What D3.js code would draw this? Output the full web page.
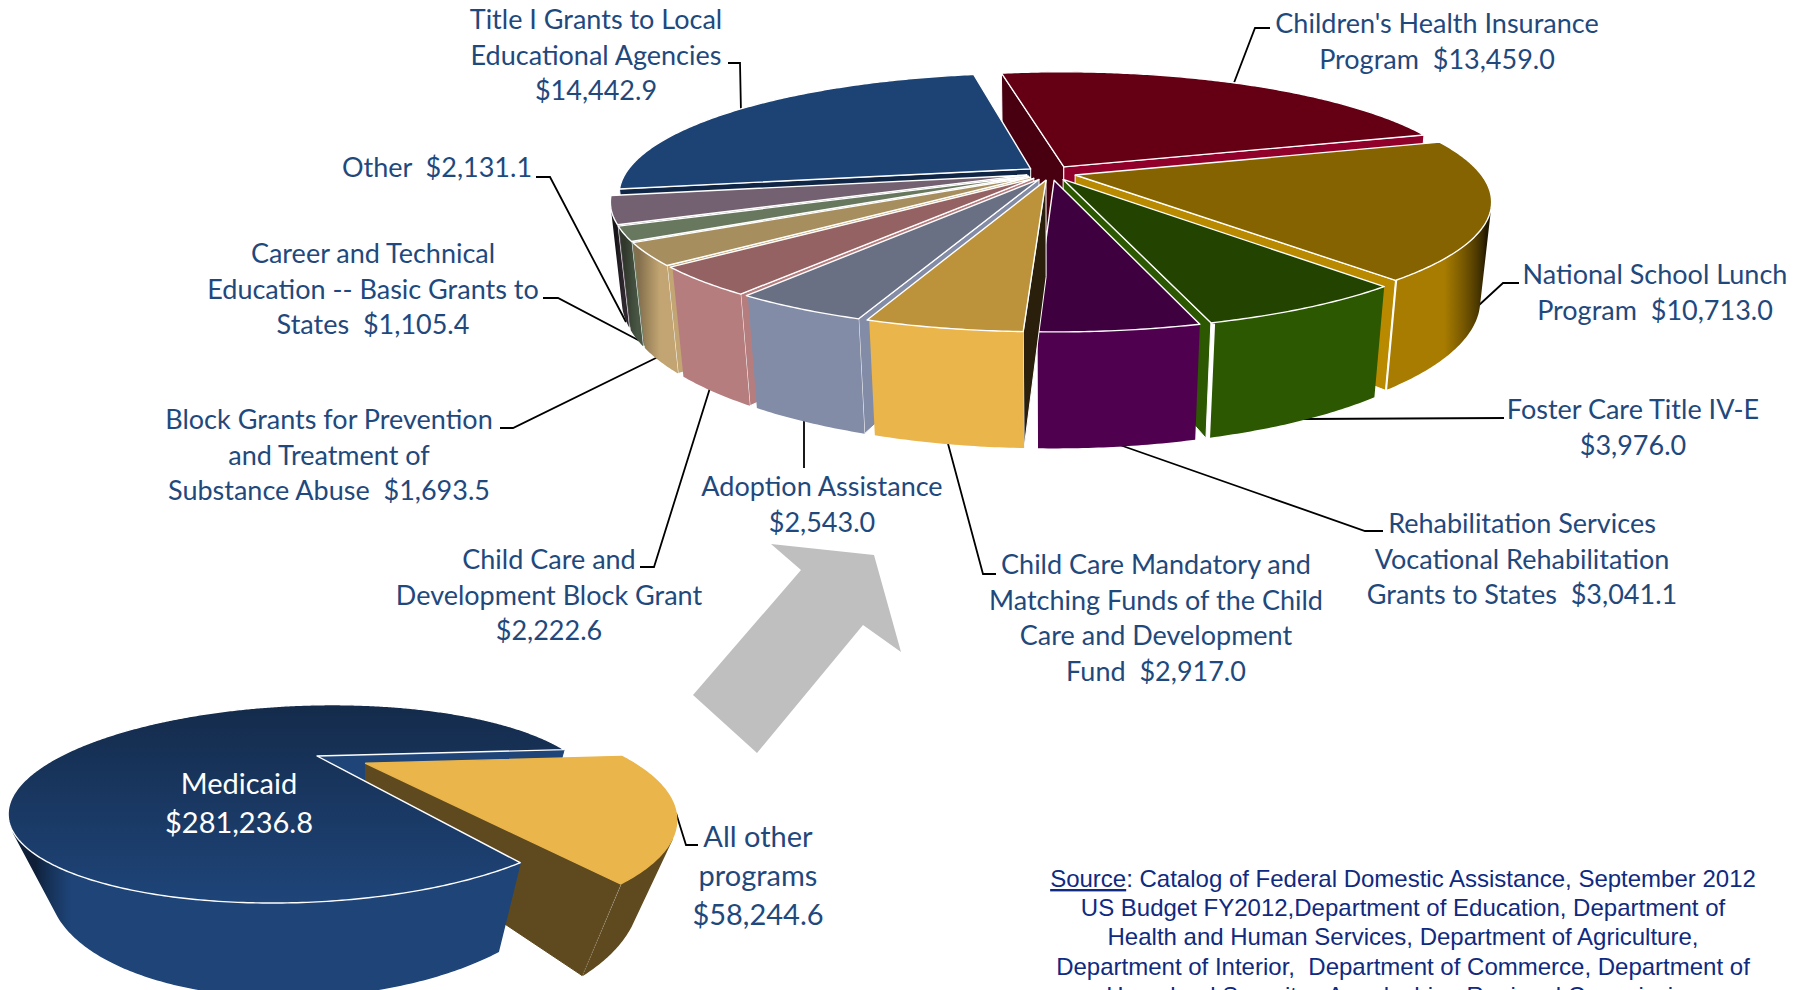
<!DOCTYPE html>
<html>
<head>
<meta charset="utf-8">
<title>Federal grants to state and local governments</title>
<script src="https://d3js.org/d3.v7.min.js"></script>
<style>
  html, body { margin: 0; padding: 0; background: #fff; overflow: hidden; }
  text { font-family: Lato, "Open Sans", sans-serif; }
</style>
</head>
<body>
<div id="chart"></div>
<script>
// Programs in the exploded pie, clockwise from the back
var programNames = ["Children's Health Insurance Program", "National School Lunch Program", "Foster Care Title IV-E",
  "Rehabilitation Services Vocational Rehabilitation Grants to States", "Child Care Mandatory and Matching Funds",
  "Adoption Assistance", "Child Care and Development Block Grant", "Block Grants for Prevention and Treatment of Substance Abuse",
  "Career and Technical Education -- Basic Grants to States", "Other", "Title I Grants to Local Educational Agencies"];
var programValues = [13459.0, 10713.0, 3976.0, 3041.1, 2917.0, 2543.0, 2222.6, 1693.5, 1105.4, 2131.1, 14442.9];

// Medicaid against everything else
var totalNames = ["All other programs", "Medicaid"];
var totalValues = [58244.6, 281236.8];

// Colours, same order as programNames
var topColors = ["#650014", "#846300", "#234400", "#3f0040", "#bc923a", "#6a7083", "#956264", "#a68e5f", "#67785f", "#736070", "#1c4374"];
var wallColors = ["#90002a", "#a87c00", "#2b5800", "#4f004f", "#eab54b", "#838ca6", "#b67d7f", "#c2a572", "#6d8065", "#6e5f6e", "#1e4478"];
var startCutColors = ["#480010", "#a87c00", "#2b5800", "#4f004f", "#2a1f0a", "#838ca6", "#b67d7f", "#c2a572", "#6d8065", "#6e5f6e", "#0f2647"];
var endCutColors = ["#90002a", "#b98a00", "#2b5800", "#4f004f", "#2a1f0a", "#838ca6", "#c99a9c", "#c2a572", "#6d8065", "#6e5f6e", "#0f2647"];

var width = 1799;
var height = 990;
var labelColor = "#1f497d";

var svg = d3.select("#chart").append("svg")
  .attr("width", width)
  .attr("height", height)
  .style("display", "block");

var defs = svg.append("defs");
var medicaidGradient = defs.append("linearGradient")
  .attr("id", "medicaidTop")
  .attr("gradientUnits", "userSpaceOnUse")
  .attr("x1", 0).attr("x2", 0).attr("y1", 705).attr("y2", 900);
medicaidGradient.append("stop").attr("offset", 0).attr("stop-color", "#142b4b");
medicaidGradient.append("stop").attr("offset", 1).attr("stop-color", "#1e4478");

// Leader lines, under the pies
var leaders = [
  [[728, 63], [740, 63], [741, 113]],
  [[1270, 28], [1255, 28], [1232, 88]],
  [[1519, 283], [1503, 283], [1478, 306]],
  [[1504, 418], [1304, 419]],
  [[1383, 531], [1365, 531], [1117, 444]],
  [[996, 574], [983, 574], [947, 440]],
  [[804, 468], [804, 418]],
  [[640, 567], [654, 567], [710, 388]],
  [[500, 428], [513, 428], [660, 356]],
  [[543, 298], [558, 298], [640, 341]],
  [[536, 177], [550, 177], [626, 322]],
  [[698, 845], [686, 845], [676, 813]]
];
svg.append("g").selectAll("path")
  .data(leaders)
  .enter()
  .append("path")
  .attr("d", d3.line())
  .attr("fill", "none")
  .attr("stroke", "#000")
  .attr("stroke-width", 1.8);

// Perspective camera for a tilted pie
function makeProjection(p) {
  return function(u, v, h) {
    var yy = v * p.sin - h * p.cos;
    var zz = v * p.cos + h * p.sin;
    var scale = p.dist / (p.dist - zz);
    return [p.camX + (u * p.stretch - p.off) * scale, p.cy + yy * p.squash * scale];
  };
}

// d3.polygonArea is positive for clockwise points on a y-down screen
function signedArea(pts) {
  return -d3.polygonArea(pts);
}

var edge = d3.line().curve(d3.curveLinearClosed);

function drawPie(g, values, p, colors) {
  var project = makeProjection(p);
  var arcs = d3.pie().sort(null).startAngle(p.start).endAngle(p.start + 2 * Math.PI)(values);
  var depth = d3.scaleLinear().domain(p.shadeFrom).range([0, 1]).clamp(true);

  var wedges = arcs.map(function(d, i) {
    var mid = (d.startAngle + d.endAngle) / 2;
    var ex = p.explode[i] * Math.sin(mid);
    var ey = -p.explode[i] * Math.cos(mid);
    return {
      start: d.startAngle, end: d.endAngle, mid: mid, i: i,
      rim: function(a, h) { return project(ex + p.radius * Math.sin(a), ey - p.radius * Math.cos(a), h); },
      tip: function(h) { return project(ex, ey, h); },
      steps: d3.range(d.startAngle, d.endAngle, 0.01).concat([d.endAngle])
    };
  });

  // the two cut faces of the wedge, only when they look at the camera
  function drawCuts(d) {
    var startFace = [d.tip(0), d.rim(d.start, 0), d.rim(d.start, -p.wall), d.tip(-p.wall)];
    var endFace = [d.tip(0), d.rim(d.end, 0), d.rim(d.end, -p.wall), d.tip(-p.wall)];
    if (signedArea(startFace) < 0) {
      g.append("path").attr("d", edge(startFace)).attr("fill", colors.startCut[d.i])
        .attr("stroke", p.cutLine[d.i]).attr("stroke-width", 1);
    }
    if (signedArea(endFace) > 0) {
      g.append("path").attr("d", edge(endFace)).attr("fill", colors.endCut[d.i])
        .attr("stroke", p.cutLine[d.i]).attr("stroke-width", 1);
    }
  }

  // outer wall with a horizontal gradient that darkens at the sides, then the top surface
  function drawBody(d) {
    var seen = d.steps.filter(function(a, k) {
      if (k === d.steps.length - 1) return false;
      var b = d.steps[k + 1];
      return signedArea([d.rim(a, 0), d.rim(b, 0), d.rim(b, -p.wall), d.rim(a, -p.wall)]) < 0;
    });
    if (seen.length > 1) {
      var id = p.id + "-wall-" + d.i;
      var midX = seen.map(function(a) { return (d.rim(a, 0)[0] + d.rim(a, -p.wall)[0]) / 2; });
      var toOffset = d3.scaleLinear().domain([midX[0], midX[midX.length - 1]]).range([0, 1]);
      var grad = defs.append("linearGradient").attr("id", id).attr("gradientUnits", "userSpaceOnUse")
        .attr("x1", midX[0]).attr("x2", midX[midX.length - 1]).attr("y1", 0).attr("y2", 0);
      seen.forEach(function(a, k) {
        grad.append("stop").attr("offset", toOffset(midX[k]))
          .attr("stop-color", d3.interpolateRgb(colors.wall[d.i], "#000")(p.edgeDark[d.i] * depth(Math.abs(Math.sin(a)))));
      });
      var outline = seen.map(function(a) { return d.rim(a, 0); })
        .concat(seen.slice().reverse().map(function(a) { return d.rim(a, -p.wall); }));
      g.append("path").attr("d", edge(outline)).attr("fill", "url(#" + id + ")")
        .attr("stroke", "url(#" + id + ")").attr("stroke-width", p.wallSeam);
    }
    var top = [d.tip(0)].concat(d.steps.map(function(a) { return d.rim(a, 0); }));
    g.append("path").attr("d", edge(top)).attr("fill", colors.top[d.i])
      .attr("stroke", p.line[d.i]).attr("stroke-width", 1.4).attr("stroke-linejoin", "round");
  }

  // p.order paints the wedges back to front; p.cutsFirst puts every cut face under all bodies
  if (p.cutsFirst) {
    p.order.slice().reverse().forEach(function(i) { drawCuts(wedges[i]); });
    p.order.forEach(function(i) { drawBody(wedges[i]); });
  } else {
    p.order.forEach(function(i) { drawCuts(wedges[i]); drawBody(wedges[i]); });
  }
}

// Arrow between the two pies
var arrowPoints = [[771, 544], [874, 555], [901, 652], [863, 625], [757, 753], [693, 695], [801, 570]];
svg.append("path")
  .attr("d", edge(arrowPoints))
  .attr("fill", "#bfbfbf");

// Upper pie
var whiteLines = programValues.map(function() { return "#fff"; });
drawPie(svg.append("g"), programValues, {
  id: "programs", camX: 1051, off: 0, cy: 173, sin: 0.358, cos: 0.934, squash: 0.807, dist: 1836, stretch: 1,
  radius: 405, wall: 130, wallSeam: 0, start: -10.4 * Math.PI / 180, shadeFrom: [0.8, 1],
  explode: programValues.map(function() { return 25; }),
  edgeDark: programValues.map(function() { return 0.95; }),
  line: whiteLines, cutLine: whiteLines,
  order: [0, 10, 1, 9, 8, 7, 2, 6, 5, 3, 4]
}, { top: topColors, wall: wallColors, startCut: startCutColors, endCut: endCutColors });

// Lower pie
drawPie(svg.append("g"), totalValues, {
  id: "totals", camX: 365, off: 48, cy: 756, sin: 0.42, cos: 0.907, squash: 0.636, dist: 536, stretch: 0.9,
  radius: 285, wall: 125, wallSeam: 1.5, start: 85 * Math.PI / 180, shadeFrom: [0.55, 0.88],
  explode: [60, 0], edgeDark: [0, 0.95], line: ["#eab54b", "#fff"], cutLine: ["#5f4a20", "#1e4478"],
  order: [0, 1], cutsFirst: true
}, { top: ["#eab54b", "url(#medicaidTop)"], wall: ["#5f4a20", "#1e4478"],
     startCut: ["#5f4a20", "#1e4478"], endCut: ["#5f4a20", "#1e4478"] });

// Slice labels
var labels = [
  { x: 596, y: 29, size: 27, lines: ["Title I Grants to Local", "Educational Agencies", "$14,442.9"] },
  { x: 1437, y: 33, size: 27, lines: ["Children's Health Insurance", "Program  $13,459.0"] },
  { x: 1655, y: 284, size: 27, lines: ["National School Lunch", "Program  $10,713.0"] },
  { x: 1633, y: 419, size: 27, lines: ["Foster Care Title IV-E", "$3,976.0"] },
  { x: 1522, y: 533, size: 27, lines: ["Rehabilitation Services", "Vocational Rehabilitation", "Grants to States  $3,041.1"] },
  { x: 1156, y: 574, size: 27, lines: ["Child Care Mandatory and", "Matching Funds of the Child", "Care and Development", "Fund  $2,917.0"] },
  { x: 822, y: 496, size: 27, lines: ["Adoption Assistance", "$2,543.0"] },
  { x: 549, y: 569, size: 27, lines: ["Child Care and", "Development Block Grant", "$2,222.6"] },
  { x: 329, y: 429, size: 27, lines: ["Block Grants for Prevention", "and Treatment of", "Substance Abuse  $1,693.5"] },
  { x: 373, y: 263, size: 27, lines: ["Career and Technical", "Education -- Basic Grants to", "States  $1,105.4"] },
  { x: 437, y: 177, size: 27, lines: ["Other  $2,131.1"] },
  { x: 758, y: 847, size: 29, step: 39, lines: ["All other", "programs", "$58,244.6"] },
  { x: 239, y: 794, size: 29, step: 39, color: "#fff", lines: ["Medicaid", "$281,236.8"] }
];

labels.forEach(function(d) {
  var t = svg.append("text")
    .attr("text-anchor", "middle")
    .attr("font-size", d.size)
    .attr("fill", d.color || labelColor)
    .style("white-space", "pre");
  d.lines.forEach(function(line, i) {
    t.append("tspan")
      .attr("x", d.x)
      .attr("y", d.y + i * (d.step || 35.6))
      .text(line);
  });
});

// Source note, runs off the bottom of the page
var sourceLines = [
  "Catalog of Federal Domestic Assistance, September 2012",
  "US Budget FY2012,Department of Education, Department of",
  "Health and Human Services, Department of Agriculture,",
  "Department of Interior,  Department of Commerce, Department of",
  "Homeland Security , Appalachian Regional Commission"
];
var source = svg.append("g")
  .attr("text-anchor", "middle")
  .attr("fill", "#0f2a80")
  .style("font-size", "24px");
sourceLines.forEach(function(line, i) {
  var t = source.append("text")
    .attr("x", 1403)
    .attr("y", 887 + i * 29.2)
    .style("font-family", "'Liberation Sans', Arial, sans-serif")
    .style("white-space", "pre");
  if (i === 0) {
    t.append("tspan").style("text-decoration", "underline").text("Source");
    t.append("tspan").text(": " + line);
  } else {
    t.text(line);
  }
});
</script>
</body>
</html>
